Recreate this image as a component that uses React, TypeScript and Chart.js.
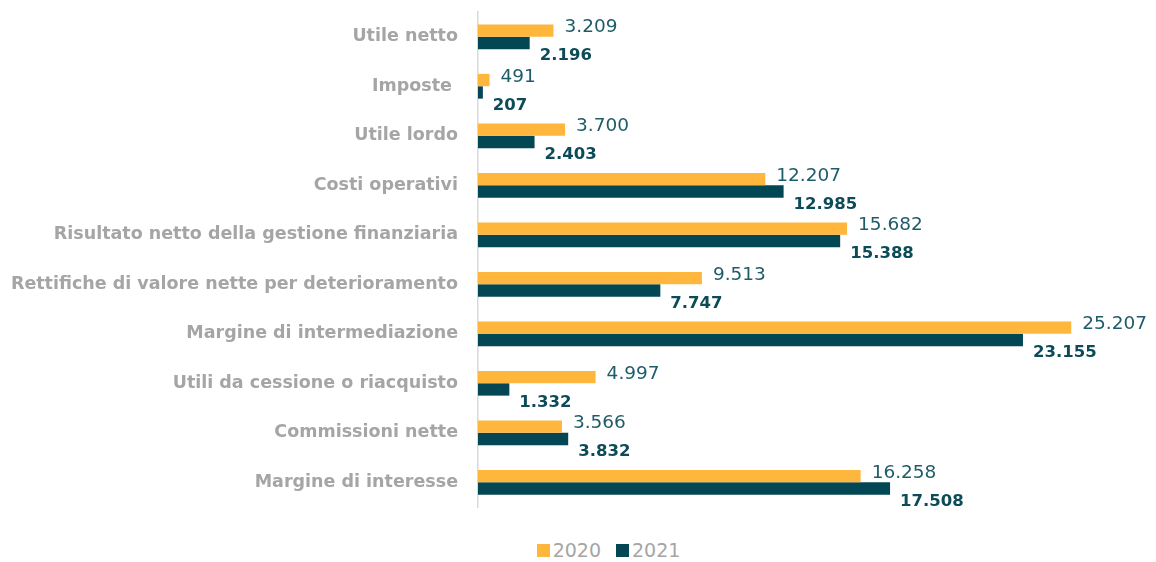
import React, { useEffect, useRef } from "react";
import { Chart, registerables } from "chart.js";

Chart.register(...registerables);

const categories = [
  "Utile netto",
  "Imposte ",
  "Utile lordo",
  "Costi operativi",
  "Risultato netto della gestione finanziaria",
  "Rettifiche di valore nette per deterioramento",
  "Margine di intermediazione",
  "Utili da cessione o riacquisto",
  "Commissioni nette",
  "Margine di interesse",
];
const values2020 = [3209, 491, 3700, 12207, 15682, 9513, 25207, 4997, 3566, 16258];
const values2021 = [2196, 207, 2403, 12985, 15388, 7747, 23155, 1332, 3832, 17508];
const seriesNames = ["2020", "2021"];

const ORANGE = "#FFB63C";
const TEAL = "#034654";
const FONT = "'DejaVu Sans', sans-serif";

const fmt = (v: number) => v.toLocaleString("it-IT");

const labelPlugin = {
  id: "valueLabels",
  afterDatasetsDraw(chart: any) {
    const ctx = chart.ctx;
    ctx.save();
    ctx.textBaseline = "middle";
    ctx.textAlign = "left";
    chart.data.datasets.forEach((ds: any, di: number) => {
      const meta = chart.getDatasetMeta(di);
      meta.data.forEach((el: any, i: number) => {
        const v = ds.data[i];
        if (di === 0) {
          ctx.font = `400 18.5px ${FONT}`;
          ctx.fillStyle = "#1E5C69";
          ctx.fillText(fmt(v), el.x + 11, el.y - 3);
        } else {
          ctx.font = `700 16.5px ${FONT}`;
          ctx.fillStyle = "#0C4B58";
          ctx.fillText(fmt(v), el.x + 10, el.y + 13);
        }
      });
    });
    ctx.restore();
  },
};

export default function App() {
  const ref = useRef<HTMLCanvasElement | null>(null);
  useEffect(() => {
    if (!ref.current) return;
    const chart = new Chart(ref.current, {
      type: "bar",
      data: {
        labels: categories,
        datasets: [
          {
            label: seriesNames[0],
            data: values2020,
            backgroundColor: ORANGE,
            categoryPercentage: 0.5,
            barPercentage: 1,
          },
          {
            label: seriesNames[1],
            data: values2021,
            backgroundColor: TEAL,
            categoryPercentage: 0.5,
            barPercentage: 1,
          },
        ],
      },
      options: {
        indexAxis: "y",
        animation: false,
        responsive: false,
        maintainAspectRatio: false,
        layout: { autoPadding: false, padding: { top: 4, bottom: 1, right: 11, left: 0 } },
        plugins: {
          legend: { display: false },
          tooltip: { enabled: false },
        },
        scales: {
          x: {
            display: false,
            min: 0,
            max: 28000,
          },
          y: {
            grid: { display: false, drawTicks: false },
            border: { display: true, color: "#D9D9D9", width: 1.5 },
            ticks: {
              padding: 20,
              color: "#A5A5A5",
              font: { family: FONT, size: 17.5, weight: "bold" },
            },
            afterFit: (scale: any) => {
              scale.width = 470;
              scale.paddingTop = 0;
              scale.paddingBottom = 0;
            },
          },
        },
      },
      plugins: [labelPlugin],
    } as any);
    return () => chart.destroy();
  }, []);

  const legendItem = (color: string, text: string) => (
    <div style={{ display: "flex", alignItems: "center", marginRight: 15 }}>
      <span style={{ width: 13, height: 13, background: color, display: "inline-block", marginRight: 3 }} />
      <span style={{ fontFamily: FONT, fontSize: 19, color: "#A5A5A5" }}>{text}</span>
    </div>
  );

  return (
    <div style={{ width: 1140 }}>
      <canvas ref={ref} width={1140} height={500} style={{ display: "block" }} />
      <div style={{ display: "flex", justifyContent: "center", marginTop: 31, paddingLeft: 76 }}>
        {legendItem(ORANGE, seriesNames[0])}
        {legendItem(TEAL, seriesNames[1])}
      </div>
    </div>
  );
}
